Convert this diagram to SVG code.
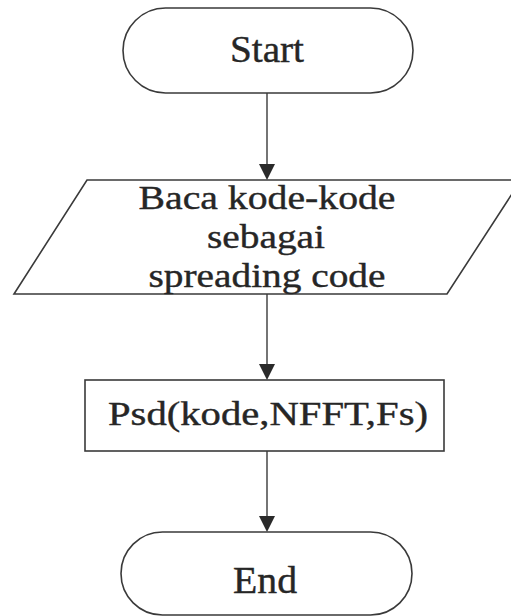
<svg xmlns="http://www.w3.org/2000/svg" width="511" height="616" viewBox="0 0 511 616">
<style>
.shape{fill:#fff;stroke:#3a3a3a;stroke-width:1.6}
.t{font-family:"Liberation Serif","Times New Roman",serif;fill:#262626;stroke:#262626;stroke-width:0.4;text-anchor:middle}
.big{font-size:38px}
.mid{font-size:34px}
.conn line{stroke:#3a3a3a;stroke-width:1.4}
.conn path{fill:#2a2a2a}
</style>
<rect width="511" height="616" fill="#fff"/>
<g class="conn">
<line x1="267" y1="93" x2="267" y2="164"/>
<line x1="267" y1="294" x2="267" y2="364"/>
<line x1="267" y1="451" x2="267" y2="516"/>
<path d="M259,164 L275,164 L267,180 Z"/>
<path d="M259,364 L275,364 L267,380 Z"/>
<path d="M259,516 L275,516 L267,532 Z"/>
</g>
<g id="start">
<rect class="shape" x="123" y="8" width="290" height="85" rx="42.5"/>
<text class="t big" x="267" y="62" textLength="74" lengthAdjust="spacingAndGlyphs">Start</text>
</g>
<g id="read">
<polygon class="shape" points="87,180 521,180 447,294 14,294"/>
<text class="t mid" x="267" y="209" textLength="257" lengthAdjust="spacingAndGlyphs">Baca kode-kode</text>
<text class="t mid" x="266" y="248" textLength="118" lengthAdjust="spacingAndGlyphs">sebagai</text>
<text class="t mid" x="267" y="287" textLength="237" lengthAdjust="spacingAndGlyphs">spreading code</text>
</g>
<g id="psd">
<rect class="shape" x="85" y="380" width="359" height="71"/>
<text class="t mid" x="268" y="425" textLength="320" lengthAdjust="spacingAndGlyphs">Psd(kode,NFFT,Fs)</text>
</g>
<g id="end">
<rect class="shape" x="121" y="532" width="291" height="83" rx="41.5"/>
<text class="t big" x="265" y="593" textLength="64" lengthAdjust="spacingAndGlyphs">End</text>
</g>
</svg>
